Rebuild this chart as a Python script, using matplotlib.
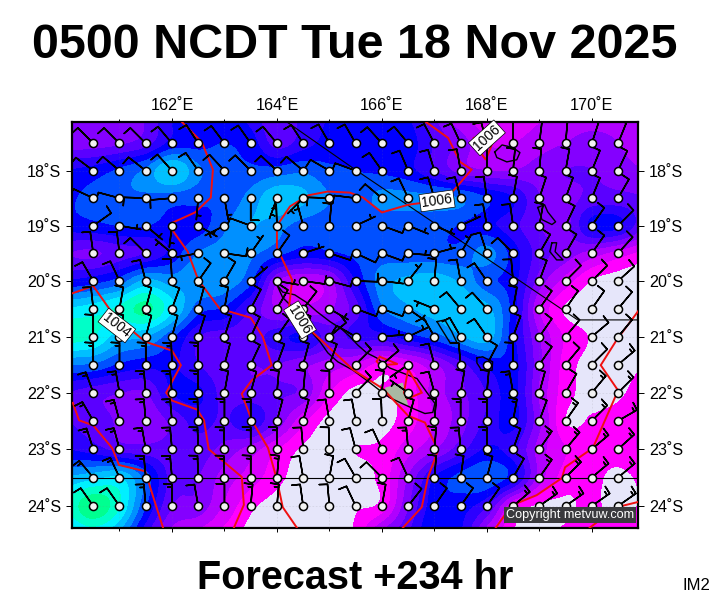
import numpy as np
import matplotlib
matplotlib.use("Agg")
import matplotlib.pyplot as plt
from matplotlib.colors import ListedColormap, BoundaryNorm

plt.rcParams['font.family'] = ['Liberation Sans', 'DejaVu Sans']

TITLE = "0500 NCDT Tue 18 Nov 2025"
SUBTITLE = "Forecast +234 hr"
COPYRIGHT = "Copyright metvuw.com"

field_lons = [160 + 0.5 * i for i in range(23)]
field_lats = [17 + 0.5 * i for i in range(16)]

# colour band index read from the shading (0 = lavender ... 15 = green)
f170 = [4.5,4.5,4.5,5,7,8,7.5,6.5,5,6.3,7,7.5,7.5,7,5,3,2.5,2.3,2.8,3,3.2,3.2,3]
f175 = [4.5,4.5,4.8,5.5,7.3,7.7,8,7.5,5.5,6.5,7.4,7.8,7.6,7.5,5.8,4.5,3,3,3.5,4,4.5,4,3]
f180 = [7,7.4,8.2,9.2,11.1,9.2,8.2,8.2,8.4,8.8,8.2,8.0,7.8,7.3,6,4.5,4,4,4.5,5,5,4.5,4]
f185 = [7.8,8.3,8.8,8.8,8.4,8.3,8.1,9.4,10.7,10.2,9,8.5,9.3,9.3,9.2,9,8,7,5,4.6,5.3,5.3,5]
f190 = [7.5,7.7,8,8,7.6,7.5,8.8,10,9.4,8.5,8.3,8.3,8.3,8.3,8.3,7.9,7.3,6.3,5,4.6,7.2,7.2,5]
f195 = [5,4.8,5.5,6,7.3,9,9.4,9.2,8.3,7.5,7.8,8.2,8.5,8.4,8.3,8.3,9.4,7.5,5.5,4.5,3.5,2.5,1.5]
f200 = [7,7.5,8.4,10.2,9.5,9.8,9.6,8.2,4,3,3.6,7,9.5,10.2,10.5,9.8,8.3,7.4,4.5,2.5,.9,.5,.3]
f205 = [11,11.5,12.2,13.3,11.2,8.4,7.8,5.8,3.8,3.2,3.8,5.5,8.8,9.8,10.5,10.7,10.3,7.5,3,.8,.5,.5,.5]
f210 = [12.5,12,10.4,10,8.2,6,5.5,5.5,6.5,7.2,5.5,6.3,6.5,7.5,8.4,9.8,10.5,7.3,4,1.8,.9,.6,.8]
f215 = [9,8.8,7.8,7.3,7.2,6,5.2,5,5,4.2,3.5,2.8,1.5,2.2,3.7,5.5,7.2,7.4,4.2,1.5,.7,.6,1]
f220 = [6,5.4,5,4.9,7,7.2,5.5,5.3,5.1,4.7,2,.6,1,1.4,3.4,4.7,6,7.3,3.8,1.4,.7,.8,1.6]
f225 = [6,5.6,4.8,4.3,5.2,6.4,5.8,6.8,4.7,2.2,.6,.5,.6,1.5,3,4.5,6.2,7.3,4.2,1,1.1,1.4,2]
f230 = [7,6.4,5.5,5.3,5.3,5.5,4.6,3.5,2,.8,.6,1,1.2,2.5,3.8,5.5,7.1,6.3,3.5,2,1.5,1.5,2.2]
f235 = [10,10.6,11,8.5,5.5,5,3.5,2.5,1.3,.5,.5,.7,1.3,4,7,8.3,8.8,7.4,3.5,1.5,1.3,.7,1.3]
f240 = [12,13.8,12,8,5,4.6,2.8,1.2,.6,.5,.5,.9,1.3,4.8,7.5,7.4,6,2,.8,.8,1.2,.6,1.2]
f245 = [10,11,9.5,6,3.5,2.5,1.5,.6,.5,.5,.5,1.2,4.5,6,8,7,3,.9,.7,1.2,1.5,1.5,1.5]
field_rows = [f170,f175,f180,f185,f190,f195,f200,f205,f210,f215,f220,f225,f230,f235,f240,f245]

band_colors = ['#e6e6fa','#ff00ff','#d800ff','#b000ff','#8400ff','#5a00ff','#2c00ff','#0000ff',
               '#0050ff','#0090ff','#00c0ff','#00f0ff','#00ffc8','#00ff90','#00ff50']

barb_lons = [160.5 + 0.5 * i for i in range(21)]
barb_lats = [17.5 + 0.5 * i for i in range(14)]
# direction the wind comes from, degrees clockwise from north
d175 = [315,315,315,320,327,323,325,320,327,330,330,318,320,332,335,345,0,7,5,18,22]
d180 = [307,310,308,318,325,317,315,313,310,300,290,325,337,343,350,0,5,5,10,22,25]
d185 = [295,285,272,265,185,170,180,200,225,272,277,310,335,343,345,352,10,18,20,22,30]
d190 = [55,100,130,187,120,243,290,358,345,5,65,110,112,113,65,350,352,10,25,35,45]
d195 = [352,353,315,310,260,98,35,35,72,108,115,110,95,75,30,342,315,30,30,35,42]
d200 = [330,335,345,357,35,30,50,100,98,105,92,97,38,5,350,325,355,20,45,45,48]
d205 = [354,10,15,20,15,10,28,30,38,120,110,110,125,292,320,318,10,35,35,35,40]
d210 = [0,10,15,15,18,18,25,35,20,50,300,85,65,330,330,325,20,35,40,50,40]
d215 = [0,0,0,358,0,15,25,20,15,20,45,50,235,345,355,28,0,35,40,45,50]
d220 = [340,350,355,355,0,10,15,5,5,0,45,5,305,345,10,5,350,15,30,40,45]
d225 = [330,345,355,355,358,0,0,15,15,350,350,358,15,5,0,0,10,20,35,45,60]
d230 = [342,345,350,355,358,358,0,0,355,358,345,335,355,5,355,0,20,35,40,50,48]
d235 = [320,335,355,355,358,358,0,5,350,10,330,315,335,5,8,15,30,35,45,50,50]
d240 = [325,325,355,0,350,0,5,5,352,355,335,10,38,35,35,35,50,55,55,55,55]
direction_rows = [d175,d180,d185,d190,d195,d200,d205,d210,d215,d220,d225,d230,d235,d240]
# speed in knots, from the feathers
s175 = [10]*21
s180 = [10]*21
s185 = [10,10,10,10,5,5,10,5,5,10,10,10,10,10,10,10,10,10,10,10,10]
s190 = [10,5,5,5,5,5,10,5,5,10,5,10,5,5,5,10,10,10,10,10,10]
s195 = [10,10,10,5,5,10,5,10,5,10,10,10,5,5,5,10,10,10,10,10,10]
s200 = [10,10,10,10,10,10,5,5,10,10,10,5,5,10,10,10,10,10,10,10,10]
s205 = [10,10,10,10,10,10,10,10,10,5,10,10,5,5,10,10,10,10,10,10,10]
s210 = [10,10,10,10,10,10,10,10,10,10,10,5,5,10,10,10,10,10,10,10,10]
s215 = [15,15,15,15,15,10,10,10,10,10,10,10,5,10,10,10,10,10,10,10,15]
s220 = [15,15,15,15,15,10,10,10,10,10,10,10,5,10,10,10,15,10,10,15,15]
s225 = [15,15,15,15,15,15,15,10,10,10,10,10,10,10,15,15,15,10,15,15,15]
s230 = [15,15,15,15,15,15,15,15,10,10,10,10,15,15,15,15,10,15,15,15,15]
s235 = [15,15,15,15,15,15,15,15,10,10,10,10,10,10,10,10,10,15,15,15,15]
s240 = [10,10,15,15,10,10,15,15,10,10,10,10,10,10,10,10,15,15,15,15,15]
speed_rows = [s175,s180,s185,s190,s195,s200,s205,s210,s215,s220,s225,s230,s235,s240]

iso_a_lon = [162.19,162.57,162.78,162.74,162.44,162.0,162.0,162.30,162.50,162.91,163.50,163.73,163.90,163.52,163.33,163.52,163.83,164.0,164.11,164.38]
iso_a_lat = [17.11,17.48,17.98,18.49,18.76,18.95,19.07,19.47,19.98,20.50,20.66,21.0,21.51,21.78,22.02,22.49,22.98,23.54,24.02,24.38]
iso_b_lon = [166.84,167.26,167.49,167.71,167.33,167.05,166.50,166.0,165.64,165.39,164.97,164.59,164.25,164.0,164.0,164.29,164.23,164.44,164.69,165.45,166.02,166.5,166.82,167.07,166.88,166.76,166.40]
iso_b_lat = [17.11,17.40,17.84,17.98,18.40,18.55,18.62,18.76,18.49,18.40,18.38,18.45,18.65,19.0,19.40,19.98,20.47,20.70,20.93,21.59,21.93,22.41,22.53,23.02,23.49,24.02,24.38]
iso_c_lon = [160.11,160.50,160.82,161.26,161.49,162.0,162.17,161.89,162.0,162.48,162.61,162.70,163.33,163.37,163.18]
iso_c_lat = [20.22,20.09,20.52,20.91,21.09,21.25,21.51,22.0,22.14,22.30,22.49,23.0,23.49,23.98,24.38]
iso_d_lon = [160.11,160.23,160.50,160.86,160.99,161.49,161.68,161.83]
iso_d_lat = [22.18,22.49,22.58,22.98,23.28,23.39,23.95,24.38]
iso_e_lon = [170.90,170.76,170.48,170.17,170.50,170.02,169.49,169.43,168.95,168.50,168.38,168.17]
iso_e_lat = [20.52,20.70,21.05,21.51,21.96,22.98,23.32,23.51,23.81,23.98,24.11,24.38]
iso_f_lon = [170.88,170.48,169.96]
iso_f_lat = [23.93,24.02,24.38]
iso_g_lon = [165.96,166.30,165.96,165.90,165.96]
iso_g_lat = [21.36,21.49,21.51,21.44,21.36]
iso_h_lon = [166.50,166.42,166.48,166.76,166.50]
iso_h_lat = [21.58,22.0,22.11,22.0,21.58]
iso_i_lon = [167.75,167.81,167.98,168.11,168.06]
iso_i_lat = [17.40,17.58,17.80,17.49,17.29]
isobars = [(iso_a_lon,iso_a_lat),(iso_b_lon,iso_b_lat),(iso_c_lon,iso_c_lat),(iso_d_lon,iso_d_lat),
           (iso_e_lon,iso_e_lat),(iso_f_lon,iso_f_lat),(iso_g_lon,iso_g_lat),(iso_h_lon,iso_h_lat),(iso_i_lon,iso_i_lat)]

label_values = ["1006","1006","1004","1006"]
label_lons = [167.05,168.0,160.95,164.44]
label_lats = [18.55,17.40,20.80,20.70]
label_rots = [8,42,-38,-58]

eez_lon = [164.19,165.49,169.73,170.88]
eez_lat = [17.11,17.98,20.70,20.70]
eez2_lon = [160.1,170.9]
eez2_lat = [23.5,23.5]

nc_lon = [164.0,164.11,164.34,164.57,164.76,165.01,165.24,165.39,165.54,165.71,165.90,166.15,166.67,166.86,167.01,166.97,166.82,166.59,166.38,166.15,165.96,165.71,165.45,165.16,164.97,164.82,164.67,164.44,164.25,164.11,164.0]
nc_lat = [20.07,20.20,20.25,20.39,20.55,20.73,20.87,21.0,21.15,21.29,21.38,21.56,21.75,22.0,22.19,22.35,22.37,22.28,22.19,22.09,21.96,21.78,21.60,21.45,21.29,21.09,20.93,20.66,20.43,20.30,20.07]
land_lon = [166.06,166.40,166.50,166.30,166.06]
land_lat = [21.91,21.82,22.23,22.19,22.0]
isl1_lon = [168.15,168.29,168.50,168.63,168.57,168.38,168.19,168.15]
isl1_lat = [17.66,17.53,17.58,17.67,17.80,17.84,17.76,17.66]
isl2_lon = [168.97,169.10,169.16,169.31,169.24,169.05,168.97]
isl2_lat = [18.67,18.62,18.75,18.93,18.98,18.89,18.67]
isl3_lon = [169.24,169.33,169.30,169.45,169.33,169.20,169.24]
isl3_lat = [19.31,19.31,19.47,19.62,19.62,19.47,19.31]
isl4_lon = [167.05,167.2,167.33,167.43,167.30,167.14,167.05]
isl4_lat = [20.73,20.70,20.91,21.11,21.11,20.87,20.73]
isl5_lon = [167.81,167.92,168.11,168.10,167.90,167.81,167.81]
isl5_lat = [21.38,21.36,21.45,21.60,21.60,21.47,21.38]
islands = [(isl1_lon,isl1_lat),(isl2_lon,isl2_lat),(isl3_lon,isl3_lat),(isl4_lon,isl4_lat),(isl5_lon,isl5_lat)]

lon_ticks = [162,164,166,168,170]
lon_minor = [161,163,165,167,169]
lat_ticks = [18,19,20,21,22,23,24]


def merc(l):
    r = np.radians(np.clip(l, 1, 80))
    return np.log(np.tan(np.pi / 4 + r / 2))


def merc_inv(m):
    return np.degrees(2 * np.arctan(np.exp(m)) - np.pi / 2)


def smooth(z, n=8):
    """Catmull-Rom refinement of a gridded field along its two axes."""
    def along(a):
        m = a.shape[0]
        pad = np.vstack([2 * a[0] - a[1], a, 2 * a[-1] - a[-2]])
        t = np.linspace(0, m - 1, (m - 1) * n + 1)
        i = np.minimum(t.astype(int), m - 2)
        u = (t - i)[:, None]
        p0, p1, p2, p3 = pad[i], pad[i + 1], pad[i + 2], pad[i + 3]
        return 0.5 * (2 * p1 + (p2 - p0) * u + (2 * p0 - 5 * p1 + 4 * p2 - p3) * u ** 2
                      + (3 * p1 - p0 - 3 * p2 + p3) * u ** 3)
    return along(along(z).T).T


fig = plt.figure(figsize=(7.11, 6.0), dpi=100)
ax = fig.add_axes([72 / 711, 72 / 600, 566 / 711, 406 / 600])
ax.set_yscale('function', functions=(merc, merc_inv))

Z = smooth(np.array(field_rows))
x_f = np.linspace(field_lons[0], field_lons[-1], Z.shape[1])
y_f = np.linspace(field_lats[0], field_lats[-1], Z.shape[0])
levels = np.arange(0, len(band_colors) + 1)
cmap = ListedColormap(band_colors)
cmap.set_under(band_colors[0])
cmap.set_over(band_colors[-1])
ax.contourf(x_f, y_f, Z, levels=levels, cmap=cmap, norm=BoundaryNorm(levels, cmap.N), extend='both', antialiased=False)

ax.grid(True, which='both', color='#808080', lw=0.4, ls=(0, (3, 3)), alpha=0.25)
ax.set_axisbelow(False)

ax.fill(land_lon, land_lat, color='#a9b8a2', zorder=3, lw=0)
ax.plot(nc_lon, nc_lat, color='black', lw=1.0, zorder=3)
for lo, la in islands:
    ax.plot(lo, la, color='black', lw=1.0, zorder=3)

ax.plot(eez_lon, eez_lat, color='black', lw=0.8, zorder=3)
ax.plot(eez2_lon, eez2_lat, color='black', lw=0.8, zorder=3)

for lo, la in isobars:
    ax.plot(lo, la, color='#f01010', lw=1.4, zorder=4, solid_joinstyle='miter')

LON, LAT = np.meshgrid(barb_lons, barb_lats)
D = np.radians(np.array(direction_rows, float))
S = np.array(speed_rows, float)
U = -S * np.sin(D)
V = -S * np.cos(D)
ax.barbs(LON, LAT, U, V, length=5.6, linewidth=1.1, color='black', pivot='tip', flip_barb=True,
         barb_increments=dict(half=5, full=10, flag=50),
         sizes=dict(emptybarb=0, spacing=0.14, height=0.38, width=0.04), zorder=5)
ax.scatter(LON, LAT, s=34, facecolor='#f2f2f2', edgecolor='black', linewidths=1.1, zorder=6)

for val, lo, la, rot in zip(label_values, label_lons, label_lats, label_rots):
    ax.text(lo, la, val, rotation=rot, rotation_mode='anchor', ha='center', va='center', fontsize=10, zorder=7,
            bbox=dict(boxstyle='square,pad=0.12', facecolor='white', edgecolor='black', linewidth=0.5))

ax.set_xlim(160.095, 170.88)
ax.set_ylim(24.385, 17.11)
ax.set_xticks(lon_ticks)
ax.set_xticks(lon_minor, minor=True)
ax.set_xticklabels([f"{v}\u02daE" for v in lon_ticks], fontsize=11.6)
ax.set_yticks(lat_ticks)
ax.set_yticklabels([f"{v}\u02daS" for v in lat_ticks], fontsize=11.6)
ax.yaxis.set_minor_locator(matplotlib.ticker.NullLocator())
ax.tick_params(which='major', direction='out', length=4.5, width=0.7, top=True, bottom=False, left=True, right=True,
               labeltop=True, labelbottom=False, labelleft=True, labelright=True, pad=3.5)
ax.tick_params(which='minor', direction='out', length=2.2, width=0.7, top=True, bottom=True)
ax.tick_params(axis='x', which='major', bottom=True, length=3)
for s in ax.spines.values():
    s.set_linewidth(1.6)

ax.text(0.993, 0.017, COPYRIGHT, transform=ax.transAxes, ha='right', va='bottom', color='white', fontsize=9.1, zorder=8,
        bbox=dict(boxstyle='square,pad=0.18', facecolor='#3a3a3e', edgecolor='none'))

fig.text(355 / 711, 1 - 46 / 600, TITLE, ha='center', va='center', fontsize=34.9, fontweight='bold')
fig.text(355 / 711, 1 - 578 / 600, SUBTITLE, ha='center', va='center', fontsize=28.5, fontweight='bold')
fig.text(710 / 711, 1 - 586 / 600, "IM2", ha='right', va='center', fontsize=12)

fig.savefig('out.png', dpi=100)
